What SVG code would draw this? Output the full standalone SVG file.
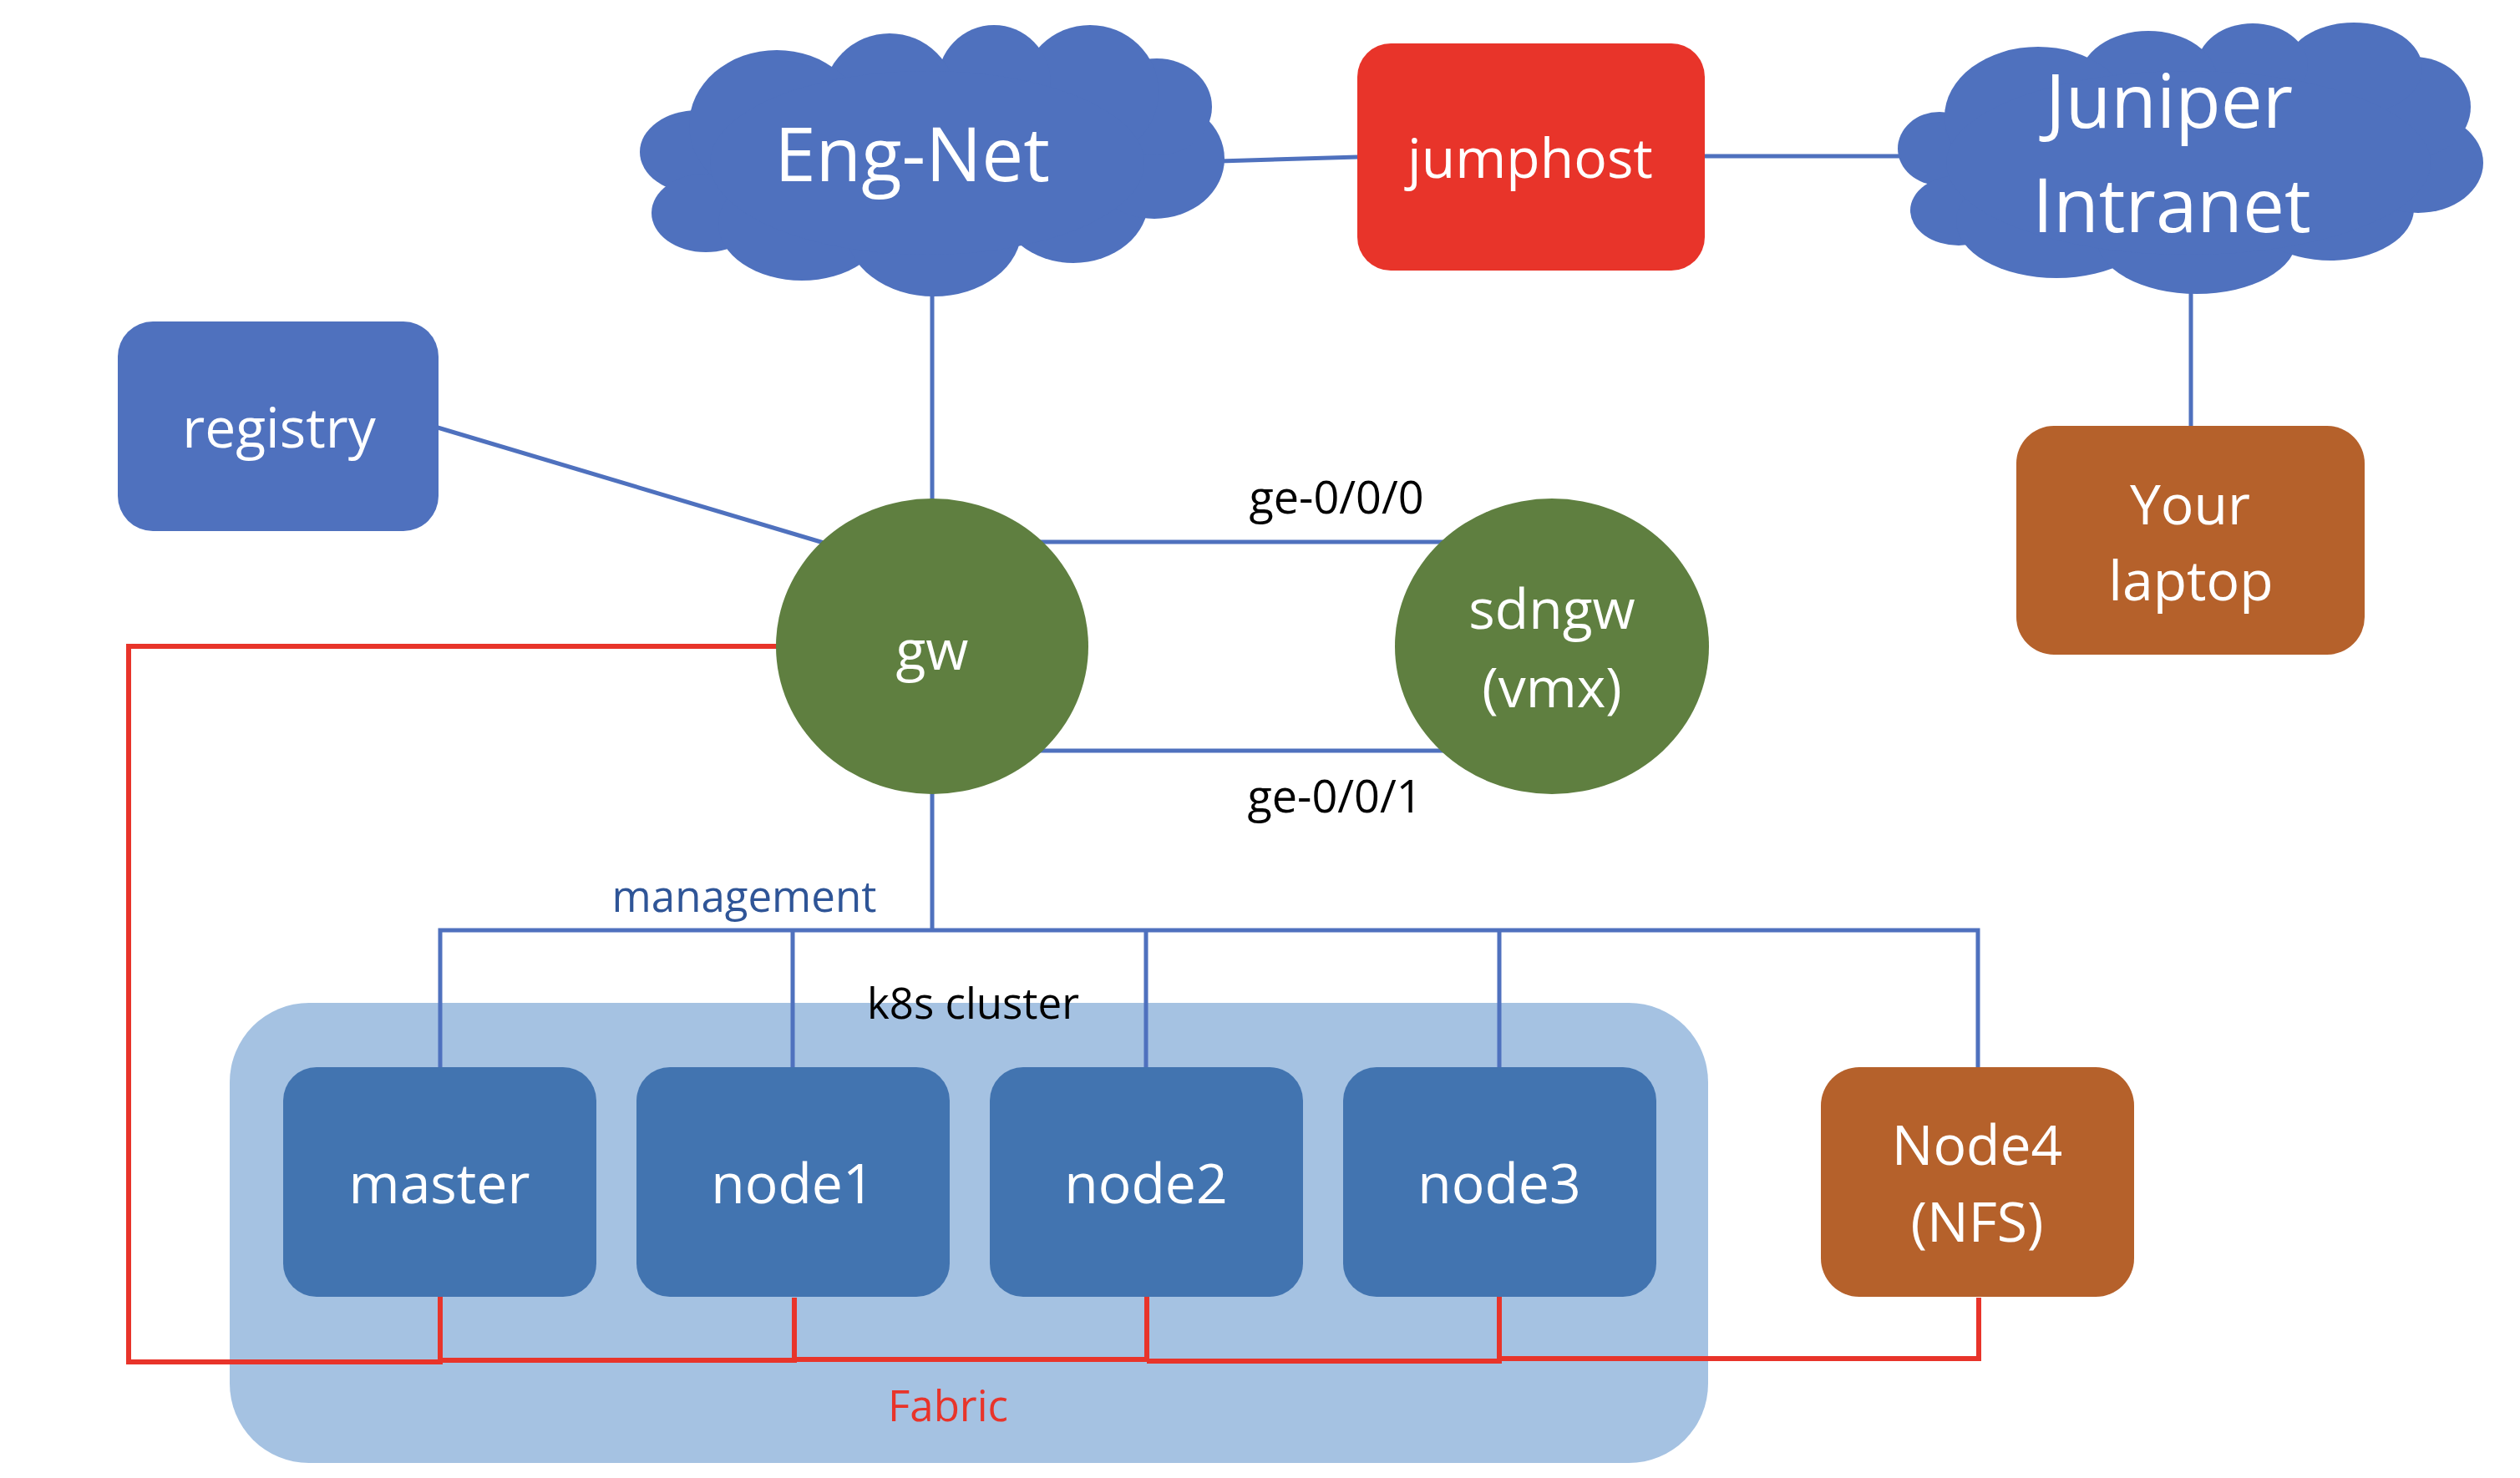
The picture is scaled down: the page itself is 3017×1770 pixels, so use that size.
<svg xmlns="http://www.w3.org/2000/svg" width="3017" height="1770" viewBox="0 0 3017 1770">
<style>
.cloud{fill:#4F71BE}
.big{font-family:"Open Sans","Noto Sans",sans-serif;fill:#fff;text-anchor:middle}
.t100{font-size:89px}
.t76{font-size:66px}
.lbl{font-family:"Open Sans","Noto Sans",sans-serif;font-size:51px;text-anchor:middle}
.ge{font-size:54px}
.bl{stroke:#4F71BE;stroke-width:5;fill:none}
.rd{stroke:#E8342A;stroke-width:6;fill:none}
</style>
<rect width="3017" height="1770" fill="#fff"/>
<g id="k8s-cluster">
<rect x="275" y="1201" width="1770" height="551" rx="95" ry="95" fill="#A5C2E2"/>
<text class="lbl" x="1165" y="1220" fill="#000">k8s cluster</text>
<text class="lbl" x="1135" y="1702" fill="#E8342A">Fabric</text>
</g>
<g id="connectors">
<line class="bl" x1="1460" y1="193" x2="1626" y2="188"/>
<line class="bl" x1="2040" y1="187" x2="2278" y2="187"/>
<line class="bl" x1="2623" y1="345" x2="2623" y2="511"/>
<line class="bl" x1="1116" y1="350" x2="1116" y2="598"/>
<line class="bl" x1="524" y1="512" x2="986" y2="650"/>
<line class="bl" x1="1245" y1="649" x2="1728" y2="649"/>
<line class="bl" x1="1245" y1="899" x2="1728" y2="899"/>
<line class="bl" x1="1116" y1="948" x2="1116" y2="1114"/>
<polyline class="bl" points="527,1279 527,1114 2368,1114 2368,1279"/>
<line class="bl" x1="949" y1="1114" x2="949" y2="1279"/>
<line class="bl" x1="1372" y1="1114" x2="1372" y2="1279"/>
<line class="bl" x1="1795" y1="1114" x2="1795" y2="1279"/>
<polyline class="rd" points="930,774 154,774 154,1631 527,1631 527,1552"/>
<polyline class="rd" points="527,1629 951,1629 951,1554"/>
<polyline class="rd" points="951,1628 1373,1628 1373,1552"/>
<polyline class="rd" points="1373,1630 1795,1630 1795,1552"/>
<polyline class="rd" points="1795,1627 2369,1627 2369,1554"/>
<text class="lbl" x="891" y="1092" fill="#2F5597">management</text>
<text class="lbl ge" x="1600" y="615" fill="#000">ge-0/0/0</text>
<text class="lbl ge" x="1598" y="973" fill="#000">ge-0/0/1</text>
</g>
<g id="eng-net">
<g class="cloud">
<ellipse cx="835" cy="182" rx="69" ry="50"/>
<ellipse cx="845" cy="255" rx="65" ry="47"/>
<ellipse cx="960" cy="268" rx="100" ry="68"/>
<ellipse cx="1118" cy="275" rx="105" ry="80"/>
<ellipse cx="1285" cy="240" rx="90" ry="75"/>
<ellipse cx="1382" cy="190" rx="84" ry="72"/>
<ellipse cx="1385" cy="128" rx="66" ry="58"/>
<ellipse cx="1305" cy="110" rx="82" ry="80"/>
<ellipse cx="1190" cy="100" rx="68" ry="70"/>
<ellipse cx="1065" cy="120" rx="80" ry="80"/>
<ellipse cx="930" cy="150" rx="105" ry="90"/>
<ellipse cx="1110" cy="195" rx="260" ry="110"/>
</g>
<text class="big t100" x="1092" y="217">Eng-Net</text>
</g>
<g id="juniper-intranet">
<g class="cloud">
<ellipse cx="2322" cy="178" rx="50" ry="44"/>
<ellipse cx="2345" cy="252" rx="58" ry="42"/>
<ellipse cx="2462" cy="265" rx="120" ry="68"/>
<ellipse cx="2630" cy="285" rx="120" ry="67"/>
<ellipse cx="2790" cy="250" rx="100" ry="62"/>
<ellipse cx="2895" cy="195" rx="78" ry="60"/>
<ellipse cx="2890" cy="128" rx="68" ry="60"/>
<ellipse cx="2818" cy="82" rx="82" ry="55"/>
<ellipse cx="2697" cy="78" rx="66" ry="50"/>
<ellipse cx="2572" cy="95" rx="82" ry="58"/>
<ellipse cx="2440" cy="140" rx="112" ry="84"/>
<ellipse cx="2620" cy="195" rx="290" ry="110"/>
</g>
<text class="big t100" x="2597" y="153">Juniper</text>
<text class="big t100" x="2600" y="278">Intranet</text>
</g>
<g id="jumphost">
<rect x="1625" y="52" width="416" height="272" rx="40" fill="#E8342A"/>
<text class="big t76" x="1832" y="213">jumphost</text>
</g>
<g id="laptop">
<rect x="2414" y="510" width="417" height="274" rx="45" fill="#B5612B"/>
<text class="big t76" x="2622" y="628">Your</text>
<text class="big t76" x="2623" y="719">laptop</text>
</g>
<g id="registry">
<rect x="141" y="385" width="384" height="251" rx="42" fill="#4F71BE"/>
<text class="big t76" x="334" y="536">registry</text>
</g>
<g id="gw">
<ellipse cx="1116" cy="774" rx="187" ry="177" fill="#5F7F40"/>
<text class="big t76" x="1116" y="802">gw</text>
</g>
<g id="sdngw">
<ellipse cx="1858" cy="774" rx="188" ry="177" fill="#5F7F40"/>
<text class="big t76" x="1858" y="753">sdngw</text>
<text class="big t76" x="1858" y="847">(vmx)</text>
</g>
<g id="master">
<rect x="339" y="1278" width="375" height="275" rx="40" fill="#4274B0"/>
<text class="big t76" x="526" y="1441">master</text>
</g>
<g id="node1">
<rect x="762" y="1278" width="375" height="275" rx="40" fill="#4274B0"/>
<text class="big t76" x="949" y="1441">node1</text>
</g>
<g id="node2">
<rect x="1185" y="1278" width="375" height="275" rx="40" fill="#4274B0"/>
<text class="big t76" x="1372" y="1441">node2</text>
</g>
<g id="node3">
<rect x="1608" y="1278" width="375" height="275" rx="40" fill="#4274B0"/>
<text class="big t76" x="1795" y="1441">node3</text>
</g>
<g id="node4">
<rect x="2180" y="1278" width="375" height="275" rx="46" fill="#B5612B"/>
<text class="big t76" x="2367" y="1395">Node4</text>
<text class="big t76" x="2367" y="1487">(NFS)</text>
</g>
</svg>
